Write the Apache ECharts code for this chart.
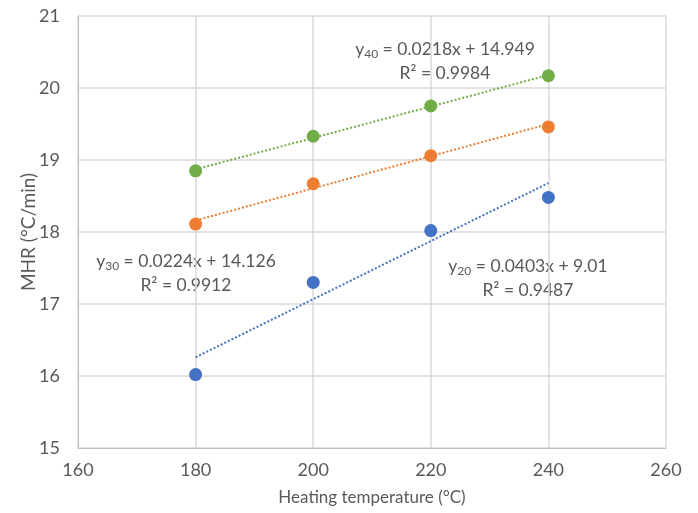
<!DOCTYPE html>
<html>
<head>
<meta charset="utf-8">
<script src="https://cdn.jsdelivr.net/npm/echarts@6/dist/echarts.min.js"></script>
<style>
	html, body { margin: 0; padding: 0; background: #fff; }
	#chart { width: 698px; height: 513px; }
</style>
</head>
<body>
<div id="chart"></div>
<script>
const temps = [180, 200, 220, 240];
const mhr20 = [16.02, 17.30, 18.02, 18.48];
const mhr30 = [18.11, 18.67, 19.06, 19.46];
const mhr40 = [18.85, 19.33, 19.75, 20.17];

// trend line end points (180 and 240)
const trendX = [180, 240];
const trend20 = [16.26, 18.68];
const trend30 = [18.16, 19.50];
const trend40 = [18.87, 20.18];

const colors = ['#4472C4', '#ED7D31', '#70AD47'];
const font = 'Lato';
const textColor = '#595959';

const pairs = (xs, ys) => xs.map((x, i) => [x, ys[i]]);

const chart = echarts.init(document.getElementById('chart'));

const scatter = (ys, color) => ({
	type: 'scatter',
	data: pairs(temps, ys),
	symbolSize: 13,
	itemStyle: { color: color, opacity: 1 },
	z: 3
});

const trend = (ys, color) => ({
	type: 'line',
	data: pairs(trendX, ys),
	symbol: 'none',
	lineStyle: { color: color, width: 2, type: [2, 2] },
	z: 2
});

// equation label, centred on (cx, cy) of the first line
const eqText = (cx, cy, sub, eq, r2) => ({
	type: 'group',
	x: cx,
	y: cy,
	children: [
		{
			type: 'text',
			style: {
				text: '{y|y}{s|' + sub + '}{t| = ' + eq + '}',
				align: 'center',
				verticalAlign: 'middle',
				rich: {
					y: { fontFamily: font, fontSize: 17.5, fill: textColor },
					s: { fontFamily: font, fontSize: 12, fill: textColor, padding: [10, 0, 0, 0] },
					t: { fontFamily: font, fontSize: 17.5, fill: textColor }
				}
			}
		},
		{
			type: 'text',
			y: 24,
			style: {
				text: 'R² = ' + r2,
				align: 'center',
				verticalAlign: 'middle',
				fontFamily: font,
				fontSize: 17.5,
				fill: textColor
			}
		}
	]
});

const option = {
	animation: false,
	grid: { left: 78, right: 32, top: 16, bottom: 65 },
	xAxis: {
		type: 'value',
		min: 160,
		max: 260,
		interval: 20,
		name: 'Heating temperature (°C)',
		nameLocation: 'middle',
		nameGap: 41,
		nameMoveOverlap: false,
		nameTextStyle: { fontFamily: font, fontSize: 17, color: textColor },
		axisLine: { lineStyle: { color: '#bfbfbf', width: 1 } },
		axisTick: { show: false },
		axisLabel: { fontFamily: font, fontSize: 18, color: textColor, margin: 13 },
		splitLine: { lineStyle: { color: '#d9d9d9', width: 1.5 } }
	},
	yAxis: {
		type: 'value',
		min: 15,
		max: 21,
		interval: 1,
		name: 'MHR (°C/min)',
		nameLocation: 'middle',
		nameGap: 40,
		nameMoveOverlap: false,
		nameTextStyle: { fontFamily: font, fontSize: 19, color: textColor },
		axisLine: { show: true, lineStyle: { color: '#bfbfbf', width: 1 } },
		axisTick: { show: false },
		axisLabel: { fontFamily: font, fontSize: 18, color: textColor, margin: 18 },
		splitLine: { lineStyle: { color: '#d9d9d9', width: 1.5 } }
	},
	series: [
		trend(trend20, colors[0]),
		trend(trend30, colors[1]),
		trend(trend40, colors[2]),
		scatter(mhr20, colors[0]),
		scatter(mhr30, colors[1]),
		scatter(mhr40, colors[2])
	],
	graphic: [
		eqText(445, 49, '40', '0.0218x + 14.949', '0.9984'),
		eqText(186, 261, '30', '0.0224x + 14.126', '0.9912'),
		eqText(528, 266, '20', '0.0403x + 9.01', '0.9487')
	]
};

chart.setOption(option);
</script>
</body>
</html>
